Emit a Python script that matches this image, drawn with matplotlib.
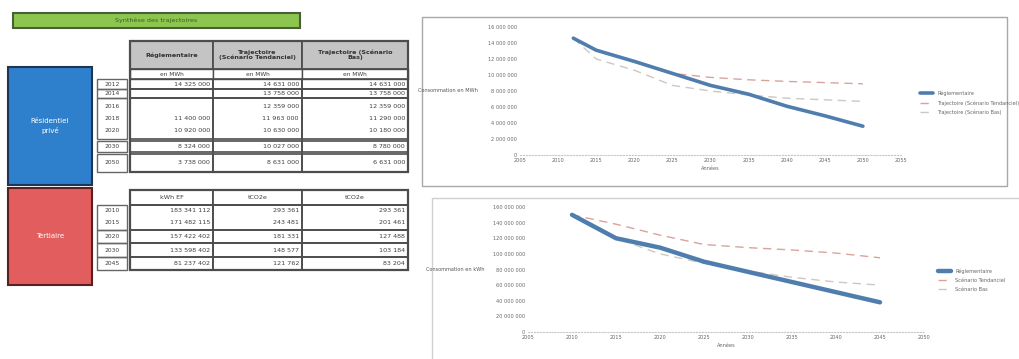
import numpy as np
import matplotlib
matplotlib.use("Agg")
from matplotlib import pyplot as plt
from matplotlib.patches import Rectangle

# ---- donnees tableaux ----
titre = "Synthèse des trajectoires"
entetes = ["Réglementaire", "Trajectoire\n(Scénario Tendanciel)", "Trajectoire (Scénario\nBas)"]
unites = ["en MWh", "en MWh", "en MWh"]
annees_t1 = ["2012", "2014", "2016", "2018", "2020", "2030", "2050"]
regl_t1 = ["14 325 000", "", "", "11 400 000", "10 920 000", "8 324 000", "3 738 000"]
tend_t1 = ["14 631 000", "13 758 000", "12 359 000", "11 963 000", "10 630 000", "10 027 000", "8 631 000"]
bas_t1 = ["14 631 000", "13 758 000", "12 359 000", "11 290 000", "10 180 000", "8 780 000", "6 631 000"]

entetes_t2 = ["kWh EF", "tCO2e", "tCO2e"]
annees_t2 = ["2010", "2015", "2020", "2030", "2045"]
regl_t2 = ["183 341 112", "171 482 115", "157 422 402", "133 598 402", "81 237 402"]
tend_t2 = ["293 361", "243 481", "181 331", "148 577", "121 762"]
bas_t2 = ["293 361", "201 461", "127 488", "103 184", "83 204"]

# ---- donnees graphiques ----
series = ["Réglementaire", "Trajectoire (Scénario Tendanciel)", "Trajectoire (Scénario Bas)"]
series_bas = ["Réglementaire", "Scénario Tendanciel", "Scénario Bas"]
x_haut = [2012, 2015, 2020, 2025, 2030, 2035, 2040, 2045, 2050]
regl_haut = [14.6, 13.1, 11.7, 10.2, 8.7, 7.6, 6.1, 4.9, 3.6]
tend_haut = [14.6, 13.1, 11.7, 10.2, 9.7, 9.4, 9.2, 9.05, 8.9]
bas_haut = [14.6, 12.0, 10.6, 8.7, 8.0, 7.5, 7.1, 6.9, 6.7]

x_bas = [2010, 2015, 2020, 2025, 2030, 2035, 2040, 2045]
regl_bas = [150, 120, 108, 90, 77, 64, 51, 38]
tend_bas = [150, 138, 124, 112, 108, 105, 101, 95]
bas_bas = [150, 120, 100, 88, 78, 70, 64, 60]

W, H = 1020, 359
fig = plt.figure(figsize=(W / 100, H / 100), dpi=100)
bg = fig.add_axes([0, 0, 1, 1])
bg.set_xlim(0, W)
bg.set_ylim(H, 0)
bg.axis("off")

def box(x0, y0, x1, y1, fc="none", ec="#555555", lw=1.0, z=1):
    bg.add_patch(Rectangle((x0, y0), x1 - x0, y1 - y0, fc=fc, ec=ec, lw=lw, zorder=z))

fs = 4.6
gris_txt = "#404040"

# bandeau vert
box(13, 13, 300, 28, fc="#8cc64e", ec="#4b5e3a", lw=1.5)
bg.text(156, 20.5, titre, ha="center", va="center", fontsize=fs, color="#3c5a2a")

# blocs de gauche
box(8, 67, 92, 185, fc="#2f80cc", ec="#1f3550", lw=1.5)
bg.text(50, 126, "Résidentiel\nprivé", ha="center", va="center", fontsize=5, color="white", linespacing=1.4)
box(8, 188, 92, 285, fc="#e25d5d", ec="#5a2020", lw=1.5)
bg.text(50, 236, "Tertiaire", ha="center", va="center", fontsize=5, color="white")

cols = [130, 213, 302, 408]

# ---- tableau 1 ----
for i in range(3):
    box(cols[i], 41, cols[i + 1], 69, fc="#c4c4c4", ec="#4d4d4d", lw=1.3)
    bg.text((cols[i] + cols[i + 1]) / 2, 55, entetes[i], ha="center", va="center",
            fontsize=fs, weight="bold", color="#333333", linespacing=1.0)
    box(cols[i], 69, cols[i + 1], 79, fc="white", ec="#4d4d4d", lw=1.0)
    bg.text((cols[i] + cols[i + 1]) / 2, 74, unites[i], ha="center", va="center", fontsize=fs - 0.4, color=gris_txt)

rows1 = [(79, 89), (89, 98), (98, 139), (141, 152), (154, 172)]
y_t1 = [84, 93.5, 106, 118, 131, 146.5, 163]
for (a, b) in rows1:
    box(97, a, 127, b, ec="#666666", lw=1.0)
    for i in range(3):
        box(cols[i], a, cols[i + 1], b, ec="#4d4d4d", lw=1.2)
box(130, 41, 408, 172, ec="#4d4d4d", lw=1.6)

for k, y in enumerate(y_t1):
    bg.text(112, y, annees_t1[k], ha="center", va="center", fontsize=fs - 0.3, color=gris_txt)
    bg.text(cols[1] - 3, y, regl_t1[k], ha="right", va="center", fontsize=fs, color=gris_txt)
    bg.text(cols[2] - 3, y, tend_t1[k], ha="right", va="center", fontsize=fs, color=gris_txt)
    bg.text(cols[3] - 3, y, bas_t1[k], ha="right", va="center", fontsize=fs, color=gris_txt)

# ---- tableau 2 ----
for i in range(3):
    box(cols[i], 190, cols[i + 1], 205, fc="white", ec="#4d4d4d", lw=1.3)
    bg.text((cols[i] + cols[i + 1]) / 2, 197.5, entetes_t2[i], ha="center", va="center",
            fontsize=fs, color=gris_txt)
rows2 = [(205, 230), (230, 243), (243, 257), (257, 270)]
y_t2 = [211, 223, 236.5, 250, 263.5]
for (a, b) in rows2:
    box(97, a, 127, b, ec="#666666", lw=1.0)
    for i in range(3):
        box(cols[i], a, cols[i + 1], b, ec="#4d4d4d", lw=1.2)
box(130, 190, 408, 270, ec="#4d4d4d", lw=1.6)
for k, y in enumerate(y_t2):
    bg.text(112, y, annees_t2[k], ha="center", va="center", fontsize=fs - 0.3, color=gris_txt)
    bg.text(cols[1] - 3, y, regl_t2[k], ha="right", va="center", fontsize=fs, color=gris_txt)
    bg.text(cols[2] - 3, y, tend_t2[k], ha="right", va="center", fontsize=fs, color=gris_txt)
    bg.text(cols[3] - 3, y, bas_t2[k], ha="right", va="center", fontsize=fs, color=gris_txt)

# cadres des graphiques
box(422, 17, 1007, 186, ec="#a8a8a8", lw=1.0)
box(432, 198, 1030, 370, ec="#d0d0d0", lw=1.0)

def fax(x0, y0, x1, y1):
    return fig.add_axes([x0 / W, 1 - y1 / H, (x1 - x0) / W, (y1 - y0) / H])

couleurs = ["#4f7eae", "#d9a39d", "#cfc7c2"]
tfs = 3.6

def graphe(ax, x, s1, s2, s3, noms, ticks, xmin, xmax, ymax, ystep, fmt, ylab, lw):
    ax.plot(x, s2, color=couleurs[1], lw=1.0, ls=(0, (6, 4)), label=noms[1])
    ax.plot(x, s3, color=couleurs[2], lw=1.0, ls=(0, (6, 4)), label=noms[2])
    ax.plot(x, s1, color=couleurs[0], lw=lw, label=noms[0], solid_capstyle="round")
    ax.set_xlim(xmin, xmax)
    ax.set_ylim(0, ymax)
    ax.set_xticks(ticks)
    ax.set_yticks(np.arange(0, ymax + ystep / 2, ystep))
    ax.set_yticklabels([fmt(v) for v in np.arange(0, ymax + ystep / 2, ystep)])
    for sp in ["top", "right", "left"]:
        ax.spines[sp].set_visible(False)
    ax.spines["bottom"].set_color("#c8c8c8")
    ax.spines["bottom"].set_linestyle(":")
    ax.tick_params(labelsize=tfs, colors="#666666", length=0, pad=2)
    ax.set_xlabel("Années", fontsize=tfs, color="#666666", labelpad=2)
    ax.set_ylabel(ylab, fontsize=tfs, color="#555555", rotation=0, ha="right", va="center")
    ax.patch.set_alpha(0)

def milliers(v):
    return "{:,}".format(int(round(v))).replace(",", " ")

# graphique haut
ax1 = fax(520, 27, 901, 155)
graphe(ax1, x_haut, regl_haut, tend_haut, bas_haut, series, np.arange(2005, 2056, 5), 2005, 2055, 16, 2,
       lambda v: milliers(v * 1e6), "Consommation en MWh", 2.6)
ax1.yaxis.set_label_coords(-0.11, 0.5)
h, l = ax1.get_legend_handles_labels()
ax1.legend([h[2], h[0], h[1]], [l[2], l[0], l[1]], loc="upper left",
           bbox_to_anchor=(916 / W, 1 - 86 / H), bbox_transform=fig.transFigure,
           frameon=False, fontsize=tfs, labelcolor="#666666", handlelength=2.6, labelspacing=0.8)

# graphique bas
ax2 = fax(528, 207, 924, 332)
graphe(ax2, x_bas, regl_bas, tend_bas, bas_bas, series_bas, np.arange(2005, 2051, 5), 2005, 2050, 160, 20,
       lambda v: milliers(v * 1e6), "Consommation en kWh", 3.2)
ax2.yaxis.set_label_coords(-0.11, 0.5)
h, l = ax2.get_legend_handles_labels()
ax2.legend([h[2], h[0], h[1]], [l[2], l[0], l[1]], loc="upper left",
           bbox_to_anchor=(934 / W, 1 - 264 / H), bbox_transform=fig.transFigure,
           frameon=False, fontsize=tfs, labelcolor="#666666", handlelength=2.6, labelspacing=0.8)

fig.savefig("out.png", dpi=100)
